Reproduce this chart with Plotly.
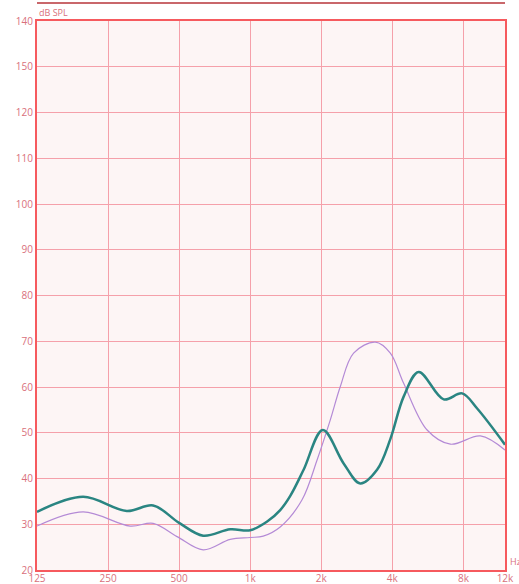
import plotly.graph_objects as go

# Frequencies (Hz) and levels (dB SPL)
teal_freq = [125, 196, 300, 388, 500, 632, 823, 1000, 1180, 1340, 1478, 1683, 2030, 2487, 2926, 3445, 3922, 4466, 5171, 6600, 7900, 9147, 12000]
teal_db = [32.7, 36.0, 32.9, 34.1, 30.3, 27.5, 28.9, 28.7, 30.6, 33.1, 36.2, 41.9, 50.6, 43.3, 38.9, 41.9, 48.6, 57.9, 63.3, 57.3, 58.6, 55.3, 47.4]

lav_freq = [125, 196, 310, 388, 490, 632, 823, 1000, 1135, 1340, 1656, 1918, 2184, 2408, 2741, 3390, 3922, 4466, 5614, 7046, 9440, 12000]
lav_db = [29.6, 32.7, 29.6, 30.2, 27.3, 24.4, 26.7, 27.1, 27.4, 29.4, 35.3, 44.0, 52.8, 60.1, 67.4, 69.8, 67.4, 60.8, 50.6, 47.5, 49.3, 46.2]

x_tickvals = [125, 250, 500, 1000, 2000, 4000, 8000, 12000]
x_ticktext = ["125", "250", "500", "1k", "2k", "4k", "8k", "12k"]
y_tickvals = [20, 30, 40, 50, 60, 70, 80, 90, 100, 110, 120, 130, 140]
y_ticktext = ["20", "30", "40", "50", "60", "70", "80", "90", "100", "110", "120", "150", "140"]

fig = go.Figure()
fig.add_trace(go.Scatter(x=lav_freq, y=lav_db, mode="lines",
                         line=dict(color="#b48ad6", width=1.2, shape="spline", smoothing=1.0),
                         hoverinfo="skip", showlegend=False))
fig.add_trace(go.Scatter(x=teal_freq, y=teal_db, mode="lines",
                         line=dict(color="#2a8582", width=2.5, shape="spline", smoothing=1.0),
                         hoverinfo="skip", showlegend=False))

tick_font = dict(family="Open Sans", size=10, color="#d9707c")
fig.update_layout(
    width=519, height=584,
    margin=dict(l=37, r=14, t=21, b=14),
    paper_bgcolor="white",
    plot_bgcolor="#fdf5f5",
    xaxis=dict(type="log", range=[2.0969, 4.0792], tickvals=x_tickvals, ticktext=x_ticktext,
               showgrid=True, gridcolor="#f5a0aa", gridwidth=1,
               showline=True, linecolor="#f65a5e", linewidth=2, mirror=True,
               ticks="", tickfont=tick_font, zeroline=False, automargin=False,
               ticklabelstandoff=-2),
    yaxis=dict(range=[20, 140], tickvals=y_tickvals, ticktext=y_ticktext,
               showgrid=True, gridcolor="#f5a0aa", gridwidth=1,
               showline=True, linecolor="#f65a5e", linewidth=2, mirror=True,
               ticks="", tickfont=tick_font, zeroline=False, automargin=False),
    shapes=[dict(type="line", xref="paper", yref="paper", x0=0, x1=1, y0=1.033, y1=1.033,
                 line=dict(color="#c9676b", width=2))],
    annotations=[
        dict(text="dB SPL", xref="paper", yref="paper", x=0.0, y=1.0, xanchor="left", yanchor="bottom",
             showarrow=False, font=dict(family="Open Sans", size=9, color="#d9707c")),
        dict(text="Hz", xref="paper", yref="paper", x=1.0, y=0.0, xanchor="left", yanchor="bottom",
             xshift=3, showarrow=False, font=dict(family="Open Sans", size=9, color="#d9707c")),
    ],
)

fig.write_html("out.html", config={"displayModeBar": False},
               post_script="document.body.style.margin='0';document.body.style.overflow='hidden';")
